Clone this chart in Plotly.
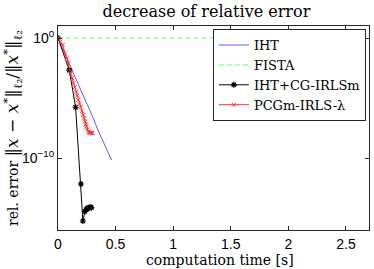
import plotly.graph_objects as go

# ---- data ----
iht_t = [0.0, 0.05, 0.10, 0.15, 0.19, 0.25, 0.30, 0.35, 0.378, 0.42, 0.465]
iht_err = [1.0, 7.9e-2, 7.1e-3, 6.3e-4, 8.7e-5, 4.0e-6, 2.8e-7, 1.8e-8, 4.4e-9, 6.3e-10, 6.8e-11]

fista_t = [0.0, 0.5, 1.0, 1.5, 2.0, 2.6]
fista_err = [1.0, 0.98, 0.97, 0.96, 0.95, 0.94]

cg_t = [0.0, 0.098, 0.153, 0.199, 0.216, 0.234, 0.245, 0.255, 0.265, 0.275, 0.285, 0.29]
cg_err = [1.0, 2.1e-3, 1.7e-6, 6.8e-13, 5.6e-16, 3.5e-15, 5.0e-15, 6.3e-15, 7.1e-15, 7.6e-15, 7.9e-15, 7.1e-15]

pcg_t = [0.0, 0.02, 0.04, 0.061, 0.075, 0.089, 0.11, 0.122, 0.133, 0.145, 0.156, 0.166,
         0.176, 0.186, 0.196, 0.208, 0.219, 0.227, 0.234, 0.241, 0.248, 0.255, 0.263,
         0.27, 0.277, 0.285, 0.293, 0.30]
pcg_err = [1.0, 5.0e-1, 2.6e-1, 5.2e-2, 2.0e-2, 7.9e-3, 1.1e-3, 4.5e-4, 1.7e-4, 7.9e-5, 3.4e-5, 1.6e-5,
           6.8e-6, 3.2e-6, 1.7e-6, 7.9e-7, 3.8e-7, 2.0e-7, 1.1e-7, 6.3e-8, 4.1e-8, 2.5e-8, 1.6e-8,
           1.3e-8, 1.3e-8, 1.26e-8, 1.2e-8, 1.26e-8]

x_ticks = [0, 0.5, 1, 1.5, 2, 2.5]
x_ticklabels = ["0", "0.5", "1", "1.5", "2", "2.5"]
y_ticks = [1e-10, 1]
y_ticklabels = ["10<sup>\u221210</sup>", "10<sup>0</sup>"]

SERIF = "DejaVu Serif"
SANS = "Liberation Sans"
AX = "#262626"

fig = go.Figure()
fig.add_trace(go.Scatter(x=iht_t, y=iht_err, mode="lines", name="IHT",
                         line=dict(color="#5a5aff", width=1)))
fig.add_trace(go.Scatter(x=fista_t, y=fista_err, mode="lines", name="FISTA",
                         line=dict(color="#66ff66", width=1, dash="5px,3px")))
fig.add_trace(go.Scatter(x=cg_t, y=cg_err, mode="lines+markers", name="IHT+CG-IRLSm",
                         line=dict(color="black", width=1),
                         marker=dict(symbol="asterisk-open", size=5, color="black",
                                     line=dict(color="black", width=1.2))))
fig.add_trace(go.Scatter(x=pcg_t, y=pcg_err, mode="lines+markers", name="PCGm-IRLS-\u03bb",
                         line=dict(color="#ff3030", width=1),
                         marker=dict(symbol="x-thin-open", size=4, color="#ff3030",
                                     line=dict(color="#ff3030", width=1))))

ytitle = ("rel. error <span style='font-size:17px'>\u2016<i>x</i> \u2212 <i>x</i><sup>*</sup>\u2016"
          "<sub>\u2113\u2082</sub>/\u2016<i>x</i><sup>*</sup>\u2016<sub>\u2113\u2082</sub></span>")

fig.update_layout(
    width=374, height=269,
    margin=dict(l=58, r=5, t=26, b=39),
    paper_bgcolor="white", plot_bgcolor="white",
    title=dict(text="decrease of relative error", x=0.552, xanchor="center",
               xref="container", y=1 - 11 / 269, yanchor="middle", yref="container",
               font=dict(family=SERIF, size=16, color="black")),
    legend=dict(x=0.99, xanchor="right", y=0.985, yanchor="top",
                bgcolor="white", bordercolor=AX, borderwidth=1,
                font=dict(family=SERIF, size=13, color="black"),
                tracegroupgap=0, itemwidth=30),
    xaxis=dict(range=[0, 2.7], tickvals=x_ticks, ticktext=x_ticklabels,
               ticks="inside", ticklen=4, tickcolor=AX, showline=True, linecolor=AX,
               linewidth=1, mirror="ticks", showgrid=False, zeroline=False,
               ticklabelstandoff=1,
               tickfont=dict(family=SANS, size=14, color="black"),
               automargin=False),
    yaxis=dict(type="log", range=[-16, 1], tickvals=y_ticks, ticktext=y_ticklabels,
               ticks="inside", ticklen=4, tickcolor=AX, showline=True, linecolor=AX,
               linewidth=1, mirror="ticks", showgrid=False, zeroline=False,
               tickfont=dict(family=SANS, size=14, color="black"),
               title=dict(text=ytitle, standoff=0,
                          font=dict(family=SERIF, size=14, color="black")),
               automargin=False),
    annotations=[dict(text="computation time [s]", xref="paper", yref="paper",
                      x=(219.5 - 58) / 311, y=(230 - 260) / 204,
                      xanchor="center", yanchor="middle", showarrow=False,
                      font=dict(family=SERIF, size=14, color="black"))],
)

fig.write_html("out.html", config={"displayModeBar": False},
               post_script="document.body.style.margin='0';document.body.style.overflow='hidden';")
